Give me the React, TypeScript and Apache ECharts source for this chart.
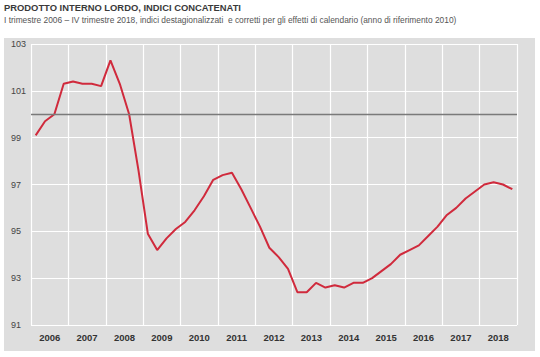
import React, { useEffect, useRef } from "react";
import * as echarts from "echarts";

const quarters: string[] = [];
const years = ["2006", "2007", "2008", "2009", "2010", "2011", "2012", "2013", "2014", "2015", "2016", "2017", "2018"];
for (const y of years) for (const q of ["I", "II", "III", "IV"]) quarters.push(q + " " + y);

const pil = [
  99.1, 99.7, 100.0, 101.3,
  101.4, 101.3, 101.3, 101.2,
  102.3, 101.3, 100.0, 97.6,
  94.9, 94.2, 94.7, 95.1,
  95.4, 95.9, 96.5, 97.2,
  97.4, 97.5, 96.8, 96.0,
  95.2, 94.3, 93.9, 93.4,
  92.4, 92.4, 92.8, 92.6,
  92.7, 92.6, 92.8, 92.8,
  93.0, 93.3, 93.6, 94.0,
  94.2, 94.4, 94.8, 95.2,
  95.7, 96.0, 96.4, 96.7,
  97.0, 97.1, 97.0, 96.8,
];

const yMin = 91;
const yMax = 103;
const yStep = 2;
const reference = 100;

const title = "PRODOTTO INTERNO LORDO, INDICI CONCATENATI";
const subtitle =
  "I trimestre 2006 \u2013 IV trimestre 2018, indici destagionalizzati  e corretti per gli effetti di calendario (anno di riferimento 2010)";

const FONT = "'Liberation Sans Narrow', 'Liberation Sans', Arial, sans-serif";

export default function App() {
  const ref = useRef<HTMLDivElement>(null);
  useEffect(() => {
    if (!ref.current) return;
    const chart = echarts.init(ref.current, null, { renderer: "svg" });
    chart.setOption({
      animation: false,
      backgroundColor: "#ffffff",
      graphic: [
        { type: "rect", z: -10, shape: { x: 4, y: 38, width: 531, height: 313 }, style: { fill: "#dedede" }, silent: true },
        { type: "text", left: 4, top: 3, style: { text: title, fontFamily: "'Liberation Sans', Arial, sans-serif", fontWeight: "bold", fontSize: 9.4, fill: "#3a3a3a" } },
        { type: "text", left: 4, top: 16, style: { text: subtitle, fontFamily: FONT, fontSize: 8.4, fill: "#555555" } },
      ],
      grid: { left: 31, right: 23, top: 44, bottom: 32 },
      xAxis: [
        {
          type: "category",
          data: years,
          position: "bottom",
          boundaryGap: true,
          axisLine: { show: false },
          axisTick: { show: false },
          axisLabel: { color: "#333333", fontFamily: FONT, fontWeight: "bold", fontSize: 9.5, margin: 7 },
          splitLine: { show: true, lineStyle: { color: "#ffffff", width: 1.2 } },
        },
        {
          type: "category",
          data: quarters,
          position: "top",
          boundaryGap: true,
          show: false,
        },
      ],
      yAxis: {
        type: "value",
        min: yMin,
        max: yMax,
        interval: yStep,
        axisLine: { show: false },
        axisTick: { show: false },
        axisLabel: { color: "#444444", fontFamily: FONT, fontSize: 9, align: "left", margin: 20 },
        splitLine: { show: true, lineStyle: { color: "#ffffff", width: 1.2 } },
      },
      series: [
        {
          type: "line",
          xAxisIndex: 1,
          data: pil,
          symbol: "none",
          lineStyle: { color: "#d02a3c", width: 2 },
          markLine: {
            silent: true,
            symbol: "none",
            label: { show: false },
            lineStyle: { color: "#7a7a7a", width: 1.3, type: "solid" },
            data: [{ yAxis: reference }],
          },
          z: 3,
        },
      ],
    });
    return () => chart.dispose();
  }, []);
  return <div ref={ref} style={{ position: "absolute", left: 0, top: 0, width: 540, height: 357 }} />;
}
